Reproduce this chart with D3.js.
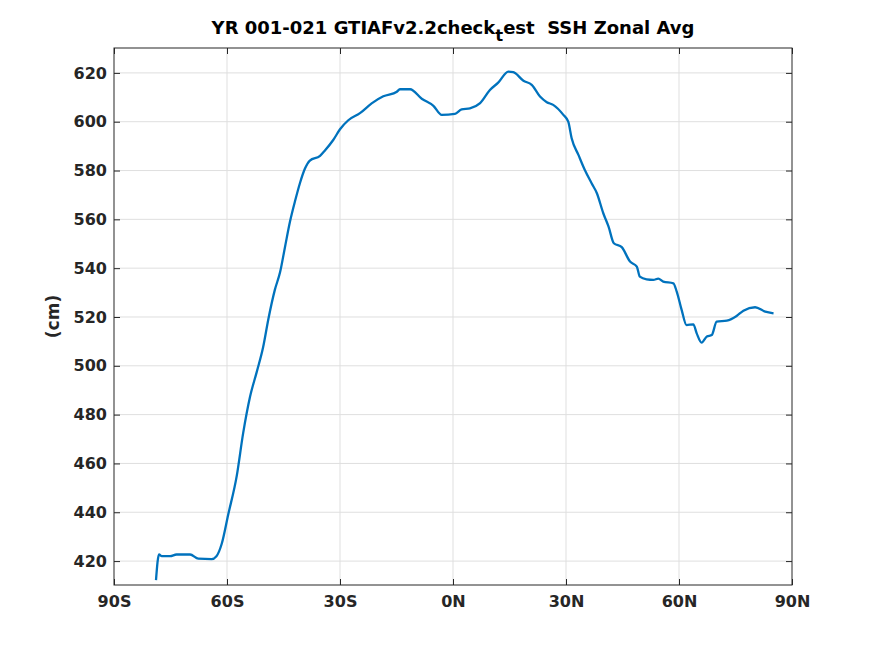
<!DOCTYPE html>
<html><head><meta charset="utf-8">
<script src="https://cdn.jsdelivr.net/npm/d3@7"></script>
<style>body{margin:0;background:#fff}svg{display:block}text{font-family:"DejaVu Sans",sans-serif;white-space:pre}</style>
</head><body>
<script>
const xTicks = [-90,-60,-30,0,30,60,90];
const xTickLabels = ["90S","60S","30S","0N","30N","60N","90N"];
const yTicks = [420,440,460,480,500,520,540,560,580,600,620];
const lat = [-78.85,-78.05,-77.3,-75.1,-73.4,-69.8,-67.6,-64.1,-62.8,-61.4,-59.7,-57.4,-55.7,-53.9,-52.1,-50.4,-49.0,-47.3,-45.9,-44.6,-43.3,-41.9,-40.6,-39.3,-38.0,-35.3,-34.0,-31.8,-30.0,-27.8,-24.7,-21.6,-18.5,-14.9,-14.1,-11.4,-8.3,-5.2,-3.0,0.5,2.3,4.5,7.2,9.8,12.0,14.7,16.0,18.7,20.9,23.1,24.9,26.6,29.3,30.6,31.5,33.3,35.0,36.8,38.2,39.9,41.3,42.7,44.8,47.0,48.8,49.6,51.4,53.2,54.5,55.8,58.5,59.4,60.7,62.0,63.8,64.7,66.0,67.4,68.7,70.0,72.7,75.3,77.1,80.2,82.9,85.1];
const ssh = [412.2,422.7,422.0,422.0,422.7,422.7,421.0,420.8,422.0,427.1,438.9,455.0,472.5,487.2,497.5,507.7,519.3,531.1,538.4,548.7,558.9,567.7,575.0,580.8,584.1,586.0,588.2,592.5,596.9,600.6,603.5,607.5,610.4,612.3,613.3,613.3,609.4,606.5,602.8,603.2,605.1,605.5,607.6,613.0,616.0,620.5,620.3,616.8,615.1,610.3,608.0,606.9,602.8,600.0,593.2,586.4,580.2,574.8,570.7,562.5,557.0,550.2,548.6,542.7,540.6,536.5,535.4,535.2,535.7,534.5,533.8,530.4,522.9,516.7,517.0,513.3,509.5,512.0,512.6,518.1,518.5,520.4,522.6,524.0,522.2,521.5];
const titleMain = "YR 001-021 GTIAFv2.2check", titleSub = "t", titleRest = "est  SSH Zonal Avg";
const yLabel = "(cm)";

const W=875,H=656, L=114, R=792, T=48, B=585;
const svg = d3.select("body").append("svg").attr("width",W).attr("height",H);
const x = d3.scaleLinear().domain([-90,90]).range([L,R]);
const y = d3.scaleLinear().domain([410.2,630.2]).range([B,T]);
const ink="#262626";

const g = svg.append("g");
g.selectAll(".gx").data(xTicks.slice(1,-1)).join("line")
  .attr("x1",d=>x(d)).attr("x2",d=>x(d)).attr("y1",T).attr("y2",B)
  .attr("stroke","#dfdfdf").attr("stroke-width",1);
g.selectAll(".gy").data(yTicks).join("line")
  .attr("x1",L).attr("x2",R).attr("y1",d=>y(d)).attr("y2",d=>y(d))
  .attr("stroke","#dfdfdf").attr("stroke-width",1);

const data = lat.map((d,i)=>[d,ssh[i]]);
svg.append("path").datum(data)
  .attr("d", d3.line().x(d=>x(d[0])).y(d=>y(d[1])).curve(d3.curveMonotoneX))
  .attr("fill","none").attr("stroke","#0072BD").attr("stroke-width",2.3).attr("stroke-linejoin","round");

const xAxisB = d3.axisBottom(x).tickValues(xTicks).tickFormat((d,i)=>xTickLabels[i]).tickSizeInner(-6).tickSizeOuter(0).tickPadding(11);
const xAxisT = d3.axisTop(x).tickValues(xTicks).tickFormat("").tickSizeInner(-6).tickSizeOuter(0);
const yAxisL = d3.axisLeft(y).tickValues(yTicks).tickSizeInner(-6).tickSizeOuter(0).tickPadding(7);
const yAxisR = d3.axisRight(y).tickValues(yTicks).tickFormat("").tickSizeInner(-6).tickSizeOuter(0);
function style(sel){
  sel.select(".domain").remove();
  sel.selectAll("line").attr("stroke",ink).attr("stroke-width",1);
  sel.selectAll("text").attr("fill",ink).attr("font-size",16).attr("font-weight","bold").attr("font-family","DejaVu Sans");
}
svg.append("g").attr("transform",`translate(0,${B})`).call(xAxisB).call(style);
svg.append("g").attr("transform",`translate(0,${T})`).call(xAxisT).call(style);
svg.append("g").attr("transform",`translate(${L},0)`).call(yAxisL).call(style);
svg.append("g").attr("transform",`translate(${R},0)`).call(yAxisR).call(style);
svg.append("rect").attr("x",L).attr("y",T).attr("width",R-L).attr("height",B-T)
  .attr("fill","none").attr("stroke",ink).attr("stroke-width",1);

const t = svg.append("text").attr("x",(L+R)/2).attr("y",34).attr("text-anchor","middle")
  .attr("xml:space","preserve")
  .attr("font-size",18).attr("font-weight","bold").attr("fill","#000");
t.append("tspan").text(titleMain);
t.append("tspan").attr("dy",7).attr("font-size",16.5).text(titleSub);
t.append("tspan").attr("dy",-7).text(titleRest);

svg.append("text").attr("transform",`translate(59,${(T+B)/2}) rotate(-90)`).attr("text-anchor","middle")
  .attr("font-size",17).attr("font-weight","bold").attr("fill",ink).text(yLabel);
</script>
</body></html>
